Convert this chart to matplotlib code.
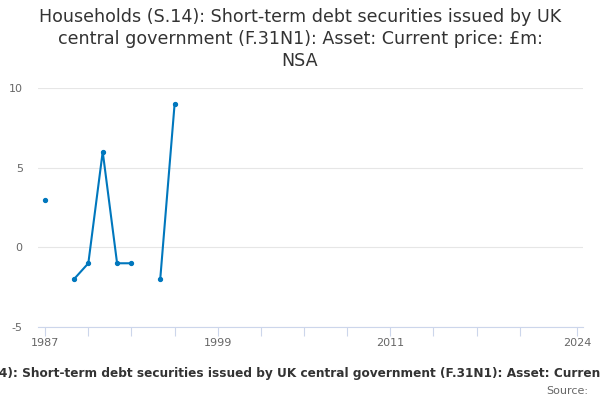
import matplotlib

matplotlib.use("Agg")
import matplotlib.pyplot as plt
import numpy as np

years = [1987, 1988, 1989, 1990, 1991, 1992, 1993, 1994, 1995, 1996]
values = [3, np.nan, -2, -1, 6, -1, -1, np.nan, -2, 9]

x_ticks = [1987, 1990, 1993, 1996, 1999, 2002, 2005, 2008, 2011, 2014, 2017, 2020, 2024]
x_labels = {1987: "1987", 1999: "1999", 2011: "2011", 2024: "2024"}
y_ticks = [-5, 0, 5, 10]

title = ("Households (S.14): Short-term debt securities issued by UK\n"
         "central government (F.31N1): Asset: Current price: £m:\nNSA")
caption = ("Households (S.14): Short-term debt securities issued by UK central government "
           "(F.31N1): Asset: Current price: £m: NSA")

_LINE = "#0077bd"
_GRID = "#e6e6e6"
_AXIS = "#ccd6eb"
_TEXT = "#666666"

fig = plt.figure(figsize=(6, 4), dpi=100)
ax = fig.add_axes([38 / 600, 1 - 327 / 400, 545 / 600, 239 / 400])

ax.plot(years, values, color=_LINE, linewidth=1.5, marker="o", markersize=2.8)

ax.set_xlim(1986.5, 2024.4)
ax.set_ylim(-5, 10)
ax.set_xticks(x_ticks)
ax.set_xticklabels([x_labels.get(t, "") for t in x_ticks])
ax.set_yticks(y_ticks)
ax.set_yticklabels([str(v) for v in y_ticks])

ax.grid(axis="y", color=_GRID, linewidth=0.8)
ax.set_axisbelow(True)
for side in ("top", "right", "left"):
    ax.spines[side].set_visible(False)
ax.spines["bottom"].set_color(_AXIS)
ax.spines["bottom"].set_linewidth(0.8)
ax.tick_params(axis="x", colors=_AXIS, length=6.5, width=0.8, labelcolor=_TEXT, labelsize=8, pad=1.5)
ax.tick_params(axis="y", length=0, labelcolor=_TEXT, labelsize=8, pad=11)

fig.text(0.5, 1 - 39 / 400, title, ha="center", va="center", fontsize=12.6, color="#333333",
         linespacing=1.3)
fig.text(0.5, 1 - 373 / 400, caption, ha="center", va="center", fontsize=8.7,
         fontweight="bold", color="#333333")
fig.text(588 / 600, 1 - 391 / 400, "Source:", ha="right", va="center", fontsize=8, color=_TEXT)

fig.savefig("out.png", dpi=100, facecolor="white")
